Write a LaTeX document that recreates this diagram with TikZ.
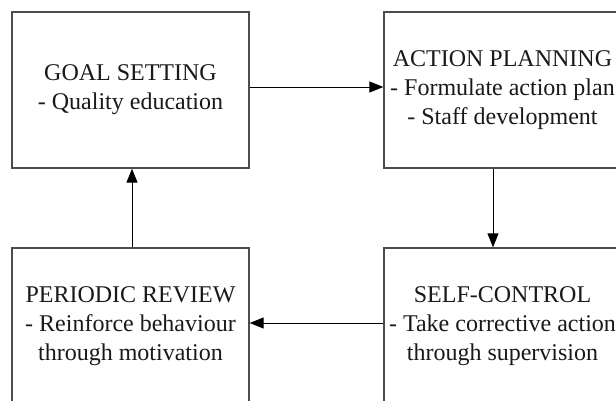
\documentclass[tikz,border=0pt]{standalone}
\usepackage{fontspec}
\setmainfont{Liberation Serif}
\newfontfamily\stagefont{Liberation Serif}
\usetikzlibrary{arrows.meta,positioning,calc}
\tikzset{>={Triangle[length=14pt,width=11pt]}}
\tikzset{stagebox/.style={draw=black!70,line width=1.3pt,minimum width=237pt,minimum height=156pt,inner sep=2pt,align=center,text=black!90,font=\stagefont\fontsize{24}{29}\selectfont}}

\begin{document}
\begin{tikzpicture}[x=1pt,y=1pt]
\useasboundingbox (0,0) rectangle (616,400);

\node [stagebox] (goal) at (130.5,310) {GOAL SETTING\\- Quality education};
\node [stagebox] (plan) at (502.5,310) {ACTION PLANNING\\- Formulate action plan\\- Staff development};
\node [stagebox] (review) at (130.5,74) {PERIODIC REVIEW\\- Reinforce behaviour\\through motivation};
\node [stagebox] (control) at (502.5,74) {SELF-CONTROL\\- Take corrective action\\through supervision};

\begin{scope}[line width=0.9pt]
\draw[->,color=black] ([yshift=3pt]goal.east) to ([yshift=3pt]plan.west);
\draw[->,color=black] ([xshift=-9.5pt]plan.south) to ([xshift=-9.5pt]control.north);
\draw[->,color=black] ([yshift=3pt]control.west) to ([yshift=3pt]review.east);
\draw[->,color=black] ([xshift=1.5pt]review.north) to ([xshift=1.5pt]goal.south);
\end{scope}

\end{tikzpicture}
\end{document}
